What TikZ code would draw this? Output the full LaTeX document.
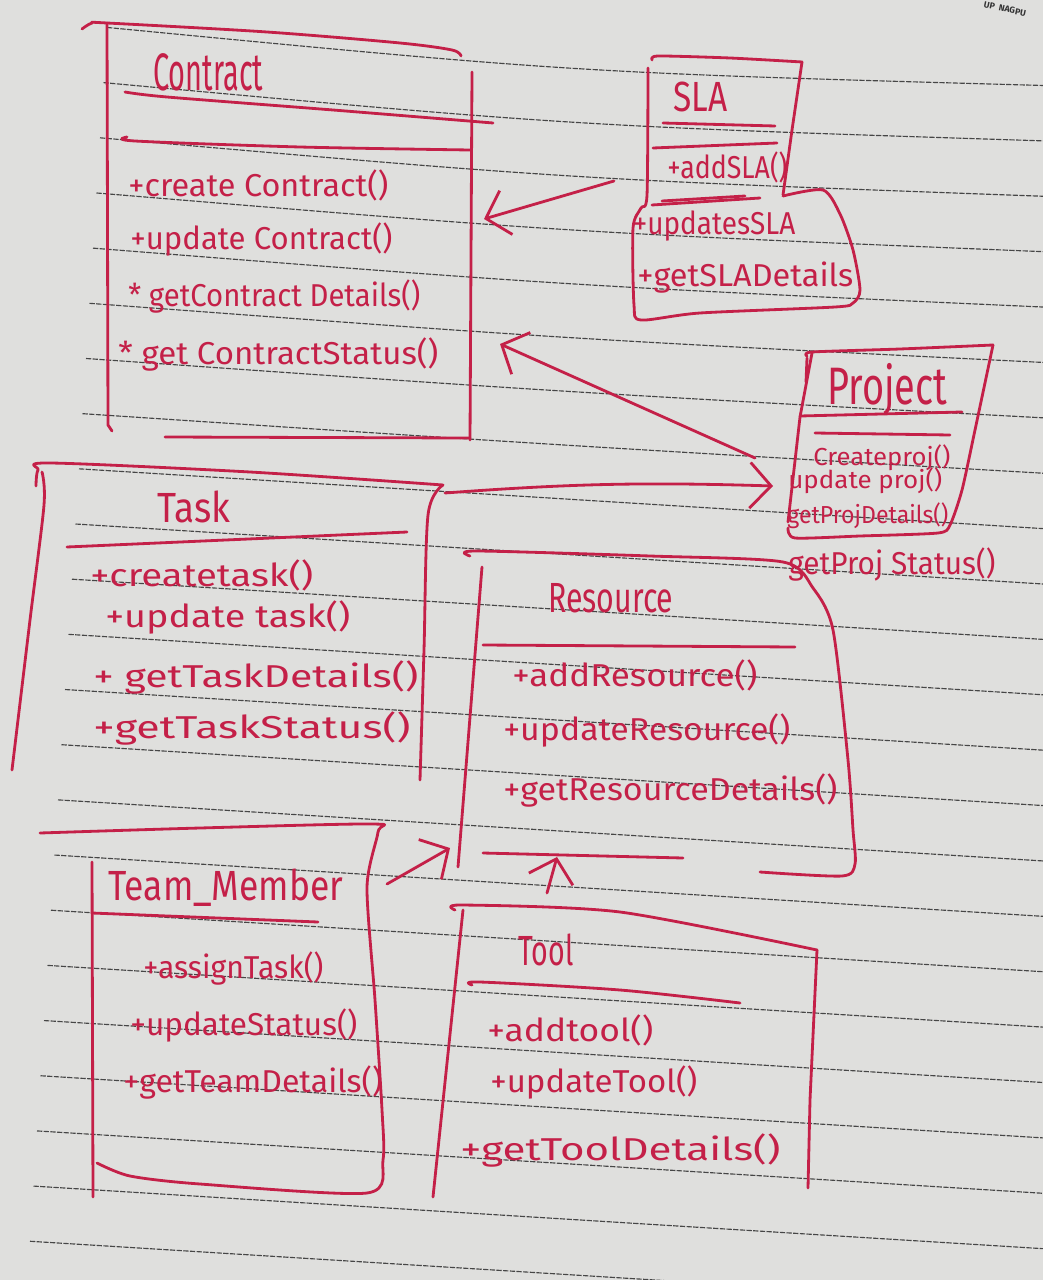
\documentclass[tikz,border=0pt]{standalone}
\usepackage{fontspec}
\setmainfont{Fira Sans}
\usepackage{graphicx}
\usetikzlibrary{arrows.meta}
\newlength\px
\setlength\px{0.02cm}
% squeeze a label to a given width (in px units), keeping its height
\newcommand{\hw}[2]{\resizebox{#1\px}{\height}{#2}}
\definecolor{ink}{RGB}{196,32,72}
\definecolor{paper}{RGB}{223,223,221}
\definecolor{rule}{RGB}{70,70,70}

\begin{document}
\begin{tikzpicture}[x=0.02cm,y=-0.02cm,
  pen/.style={draw=ink,line width=1.6pt,line cap=round,line join=round},
  txt/.style={text=ink,inner sep=0pt,anchor=west,font=\fontsize{18}{20}\selectfont},
  ttl/.style={txt,font=\fontsize{24}{26}\selectfont},
  big/.style={txt,font=\fontsize{30}{32}\selectfont},
  sm/.style={txt,font=\fontsize{14}{16}\selectfont},
  link/.style={pen,-{Straight Barb[length=12pt,width=26pt]}},
  ruled/.style={draw=rule,line width=0.65pt,dash pattern=on 3pt off 0.8pt}]

% sheet of ruled paper
\fill[paper] (0,0) rectangle (1043,1280);
\useasboundingbox (0,0) rectangle (1043,1280);
\clip (0,0) rectangle (1043,1280);
\foreach \k in {0,...,22}{
  \pgfmathsetmacro\xs{107-3.5*\k}
  \pgfmathsetmacro\ys{27+55.4*\k+0.065*(\xs-100)}
  \pgfmathsetmacro\ye{\ys+0.062*(1043-\xs)}
  \pgfmathsetmacro\sag{max(0,16*(1-\k/8))}
  \pgfmathsetmacro\cx{(\xs+1043)/2}
  \pgfmathsetmacro\cy{(\ys+\ye)/2+\sag}
  \draw[ruled] (\xs,\ys) .. controls (\cx,\cy) .. (1043,\ye);
}

% stamp in the corner
\node[rotate=-12,font=\fontsize{5}{6}\selectfont\bfseries,text=black!80] (stamp) at (1005,9) {UP\ \ NAGPU};

% ---------- Contract ----------
\draw[pen] plot[smooth,tension=0.5] coordinates {(82,29) (92,23) (107,23) (267,32) (400,43) (452,50) (461,56)};
\draw[pen] (107,23) -- (108,425) -- (112,431);
\draw[pen] (472,72) -- (470,440);
\draw[pen] (165,437) -- (470,438);
\draw[pen] plot[smooth,tension=0.5] coordinates {(125,92) (167,97) (333,110) (493,123)};
\draw[pen] plot[smooth,tension=0.5] coordinates {(127,137) (135,141) (300,147) (470,150)};
\node[big] (contract) at (153,72) {\hw{110}{Contract}};
\node[txt] (c1) at (128,185) {\hw{260}{+create Contract()}};
\node[txt] (c2) at (130,240) {\hw{262}{+update Contract()}};
\node[txt] (c3) at (128,297) {\hw{292}{* getContract Details()}};
\node[txt] (c4) at (118,355) {\hw{320}{* get ContractStatus()}};

% ---------- SLA ----------
\draw[pen] plot[smooth,tension=0.4] coordinates {(652,60) (658,56) (730,58) (802,62)};
\draw[pen] (802,62) -- (792,130) -- (783,195);
\draw[pen] plot[smooth,tension=0.45] coordinates {(783,196) (823,190) (840,214) (853,250) (860,290) (853,303) (835,307) (700,313) (641,320) (634,305) (633,228) (641,208) (647,195) (648,68)};
\draw[pen] (663,123) -- (775,126);
\draw[pen] (653,148) -- (777,143);
\draw[pen] (652,205) -- (760,198);
\draw[pen] (662,201) -- (745,196);
\node[ttl] (sla) at (673,97) {\hw{54}{SLA}};
\node[txt] (s1) at (667,167) {\hw{120}{+addSLA()}};
\node[txt] (s2) at (633,226) {\hw{162}{+updatesSLA}};
\node[txt] (s3) at (637,278) {\hw{216}{+getSLADetails}};

% ---------- Project ----------
\draw[pen] plot[smooth,tension=0.4] coordinates {(807,356) (812,352) (900,349) (993,345)};
\draw[pen] plot[smooth,tension=0.4] coordinates {(993,345) (975,430) (962,490) (950,525) (938,533) (860,536) (795,538) (788,528)};
\draw[pen] (812,353) -- (800,417) -- (788,522);
\draw[pen] (807,358) -- (806,382);
\draw[pen] (800,416) -- (962,412);
\draw[pen] (815,433) -- (950,435);
\node[big] (project) at (827,390) {\hw{120}{Project}};
\node[sm] (p1) at (813,458) {\hw{137}{Createproj()}};
\node[sm] (p2) at (788,481) {\hw{154}{update proj()}};
\node[sm] (p3) at (787,516) {\hw{161}{getProjDetails()}};
\node[txt] (p4) at (788,565) {\hw{207}{getProj Status()}};

% ---------- Task ----------
\draw[pen] plot[smooth,tension=0.5] coordinates {(36,486) (38,470) (50,463) (250,472) (443,485)};
\draw[pen] plot[smooth,tension=0.5] coordinates {(42,472) (44,505) (30,620) (12,770)};
\draw[pen] plot[smooth,tension=0.5] coordinates {(443,485) (428,515) (424,650) (420,780)};
\draw[pen] (67,547) -- (407,532);
\node[ttl] (task) at (157,507) {\hw{73}{Task}};
\node[txt] (t1) at (90,575) {\hw{223}{+createtask()}};
\node[txt] (t2) at (105,618) {\hw{245}{+update task()}};
\node[txt] (t3) at (93,677) {\hw{325}{+ getTaskDetails()}};
\node[txt] (t4) at (93,728) {\hw{317}{+getTaskStatus()}};

% ---------- Resource ----------
\draw[pen] plot[smooth,tension=0.45] coordinates {(470,556) (476,551) (650,556) (783,562) (813,588) (833,630) (848,760) (853,830) (855,864) (842,876) (760,872)};
\draw[pen] (482,567) -- (458,867);
\draw[pen] (483,853) -- (683,858);
\draw[pen] (483,645) -- (795,647);
\node[ttl] (resource) at (548,598) {\hw{125}{Resource}};
\node[txt] (r1) at (512,675) {\hw{245}{+addResource()}};
\node[txt] (r2) at (503,730) {\hw{287}{+updateResource()}};
\node[txt] (r3) at (503,790) {\hw{334}{+getResourceDetails()}};

% ---------- Team_Member ----------
\draw[pen] plot[smooth,tension=0.45] coordinates {(40,833) (200,828) (373,824) (378,832) (367,887) (375,1000) (382,1110) (383,1160) (367,1193) (200,1184) (130,1176) (97,1163)};
\draw[pen] (92,862) -- (93,1197);
\draw[pen] (92,913) -- (318,922);
\node[ttl] (team) at (108,888) {\hw{235}{Team\_Member}};
\node[txt] (m1) at (143,968) {\hw{180}{+assignTask()}};
\node[txt] (m2) at (130,1025) {\hw{227}{+updateStatus()}};
\node[txt] (m3) at (123,1082) {\hw{259}{+getTeamDetails()}};

% ---------- Tool ----------
\draw[pen] plot[smooth,tension=0.45] coordinates {(455,910) (462,905) (620,912) (817,950)};
\draw[pen] (817,950) -- (810,1100) -- (808,1188);
\draw[pen] (463,910) -- (433,1197);
\draw[pen] plot[smooth,tension=0.5] coordinates {(472,985) (480,982) (620,990) (740,1003)};
\node[ttl] (tool) at (518,950) {\hw{55}{Tool}};
\node[txt] (o1) at (487,1030) {\hw{166}{+addtool()}};
\node[txt] (o2) at (490,1082) {\hw{207}{+updateTool()}};
\node[txt] (o3) at (460,1150) {\hw{320}{+getToolDetails()}};

% ---------- associations ----------
\coordinate (sla-out) at (614,181);
\coordinate (contract-in1) at (484,219);
\coordinate (project-out) at (755,458);
\coordinate (contract-in2) at (500,344);
\coordinate (task-out) at (445,493);
\coordinate (project-in) at (773,486);
\coordinate (team-out) at (387,884);
\coordinate (resource-in1) at (450,848);
\coordinate (tool-out) at (547,893);
\coordinate (resource-in2) at (557,857);

\draw[link] (sla-out) -- (contract-in1);
\draw[link] (project-out) -- (contract-in2);
\draw[link] (task-out) to[bend left=3] (project-in);
\draw[link] (team-out) -- (resource-in1);
\draw[link] (tool-out) -- (resource-in2);
\end{tikzpicture}
\end{document}
